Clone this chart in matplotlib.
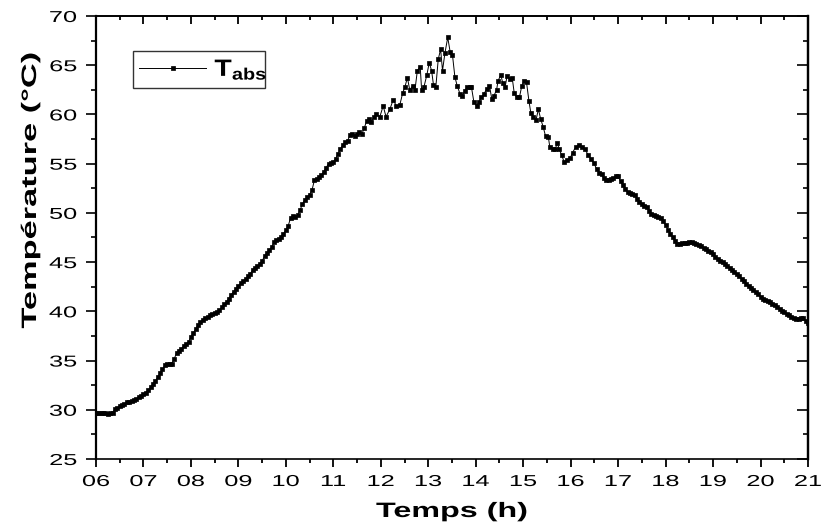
import matplotlib
matplotlib.use("Agg")
import numpy as np
import matplotlib.pyplot as plt
from matplotlib.ticker import MultipleLocator
from matplotlib.patheffects import AbstractPathEffect
from matplotlib.transforms import Affine2D
from matplotlib.path import Path

plt.rcParams['font.family'] = ['Liberation Sans', 'DejaVu Sans']
plt.rcParams['mathtext.fontset'] = 'custom'
plt.rcParams['mathtext.bf'] = 'Liberation Sans:bold'
plt.rcParams['mathtext.rm'] = 'Liberation Sans'

# ---- data (time in hours, absorber temperature in degC) ----
hours_morning = [
    6.00, 6.05, 6.10, 6.15, 6.20, 6.25, 6.30, 6.35, 6.40, 6.45, 6.50, 6.55, 6.60, 6.65, 6.70, 6.75, 6.80, 6.85, 6.90, 6.95,
    7.00, 7.05, 7.10, 7.15, 7.20, 7.25, 7.30, 7.35, 7.40, 7.45, 7.50, 7.55, 7.60, 7.65, 7.70, 7.75, 7.80, 7.85, 7.90, 7.95,
    8.00, 8.05, 8.10, 8.15, 8.20, 8.25, 8.30, 8.35, 8.40, 8.45, 8.50, 8.55, 8.60, 8.65, 8.70, 8.75, 8.80, 8.85, 8.90, 8.95,
    9.00, 9.05, 9.10, 9.15, 9.20, 9.25, 9.30, 9.35, 9.40, 9.45, 9.50, 9.55, 9.60, 9.65, 9.70, 9.75, 9.80, 9.85, 9.90, 9.95,
    10.00, 10.05, 10.10, 10.15, 10.20, 10.25, 10.30, 10.35, 10.40, 10.45, 10.50, 10.55, 10.60, 10.65, 10.70, 10.75, 10.80, 10.85, 10.90, 10.95,
    11.00, 11.05, 11.10, 11.15, 11.20, 11.25, 11.30, 11.35, 11.40, 11.45, 11.50, 11.55, 11.60, 11.65, 11.70, 11.75, 11.80, 11.85, 11.90,
]
temp_morning = [
    29.7, 29.7, 29.65, 29.65, 29.65, 29.6, 29.65, 29.65, 30.1, 30.2, 30.35, 30.5, 30.6, 30.75, 30.8, 30.9, 31.0, 31.1, 31.25, 31.4,
    31.6, 31.75, 32.0, 32.3, 32.6, 32.9, 33.3, 33.7, 34.1, 34.5, 34.6, 34.6, 34.7, 35.2, 35.8, 36.0, 36.2, 36.5, 36.7, 36.9,
    37.4, 37.8, 38.2, 38.6, 38.9, 39.1, 39.3, 39.4, 39.6, 39.7, 39.85, 39.95, 40.1, 40.4, 40.7, 40.95, 41.3, 41.7, 42.0, 42.3,
    42.6, 42.85, 43.1, 43.3, 43.55, 43.8, 44.2, 44.45, 44.6, 44.85, 45.1, 45.6, 45.95, 46.25, 46.5, 47.0, 47.25, 47.35, 47.6, 47.9,
    48.25, 48.7, 49.5, 49.7, 49.55, 49.75, 50.3, 50.9, 51.35, 51.6, 51.85, 52.3, 53.3, 53.4, 53.6, 53.85, 54.2, 54.6, 55.0, 55.1,
    55.2, 55.5, 56.0, 56.5, 56.9, 57.2, 57.3, 57.9, 58.0, 57.8, 58.0, 58.2, 58.0, 58.6, 59.3, 59.5, 59.2, 59.7, 60.0,
]
hours_noon = [
    11.98, 12.05, 12.11, 12.19, 12.26, 12.33, 12.40, 12.46, 12.51, 12.56, 12.61, 12.67, 12.72, 12.77, 12.83, 12.86,
    12.91, 12.97, 13.02, 13.07, 13.11, 13.16, 13.21, 13.26, 13.30, 13.35, 13.41, 13.46, 13.51, 13.56, 13.61, 13.67,
    13.72, 13.77, 13.82, 13.87, 13.91, 13.96, 14.02, 14.07, 14.12, 14.17, 14.23, 14.29, 14.34, 14.38, 14.44, 14.47,
    14.53, 14.57, 14.62, 14.66, 14.72, 14.77, 14.81, 14.86, 14.92, 14.97, 15.02, 15.07, 15.12, 15.16, 15.21, 15.27,
    15.32, 15.37, 15.42, 15.47, 15.53, 15.56, 15.62, 15.67, 15.72, 15.76, 15.81, 15.86, 15.92, 15.99, 16.04, 16.11,
    16.17, 16.23, 16.30, 16.37, 16.43, 16.49, 16.55,
]
temp_noon = [
    59.77, 60.86, 59.77, 60.52, 61.47, 60.86, 60.96, 62.15, 62.82, 63.74, 62.49, 62.89, 62.49, 64.45, 64.86, 62.49,
    62.82, 64.00, 65.26, 64.45, 62.99, 62.82, 65.60, 66.62, 64.45, 66.20, 67.83, 66.38, 66.04, 63.84, 62.89, 62.08,
    61.87, 62.42, 62.76, 62.76, 62.76, 61.30, 60.86, 61.30, 61.74, 62.08, 62.55, 62.89, 61.54, 61.87, 62.49, 63.43,
    64.00, 63.16, 62.82, 63.90, 63.57, 63.67, 62.21, 61.74, 61.74, 62.89, 63.43, 63.26, 61.40, 60.18, 59.77, 59.44,
    60.52, 59.50, 58.76, 57.81, 57.68, 56.73, 56.46, 56.46, 57.07, 56.46, 55.88, 55.20, 55.37, 55.55, 56.12, 56.73,
    56.90, 56.73, 56.46, 55.88, 55.44, 55.04, 54.43,
]
hours_evening = [
    16.60, 16.65, 16.70, 16.75, 16.80, 16.85, 16.90, 16.95, 17.00, 17.05, 17.10, 17.15, 17.20, 17.25, 17.30, 17.35,
    17.40, 17.45, 17.50, 17.55, 17.60, 17.65, 17.70, 17.75, 17.80, 17.85, 17.90, 17.95, 18.00, 18.05, 18.10, 18.15,
    18.20, 18.25, 18.30, 18.35, 18.40, 18.45, 18.50, 18.55, 18.60, 18.65, 18.70, 18.75, 18.80, 18.85, 18.90, 18.95,
    19.00, 19.05, 19.10, 19.15, 19.20, 19.25, 19.30, 19.35, 19.40, 19.45, 19.50, 19.55, 19.60, 19.65, 19.70, 19.75,
    19.80, 19.85, 19.90, 19.95, 20.00, 20.05, 20.10, 20.15, 20.20, 20.25, 20.30, 20.35, 20.40, 20.45, 20.50, 20.55,
    20.60, 20.65, 20.70, 20.75, 20.80, 20.85, 20.90, 20.95, 21.00,
]
temp_evening = [
    54.1, 53.95, 53.5, 53.35, 53.3, 53.4, 53.55, 53.7, 53.75, 53.2, 52.8, 52.45, 52.1, 52.0, 51.95, 51.8,
    51.45, 51.15, 50.9, 50.75, 50.6, 50.2, 49.85, 49.75, 49.65, 49.55, 49.45, 49.15, 48.75, 48.3, 47.9, 47.5,
    47.1, 46.85, 46.85, 46.9, 46.95, 46.95, 47.0, 47.05, 46.95, 46.85, 46.7, 46.6, 46.45, 46.3, 46.15, 46.0,
    45.85, 45.5, 45.3, 45.15, 45.0, 44.85, 44.65, 44.4, 44.15, 44.0, 43.8, 43.55, 43.3, 43.05, 42.8, 42.6,
    42.4, 42.15, 41.95, 41.75, 41.5, 41.3, 41.15, 41.05, 40.9, 40.75, 40.6, 40.45, 40.25, 40.05, 39.9, 39.75,
    39.6, 39.45, 39.35, 39.25, 39.2, 39.35, 39.3, 39.0, 38.8,
]

x_ticks = list(range(6, 22))
x_tick_labels = ["%02d" % h for h in x_ticks]
series_label = r"$\mathbf{T_{abs}}\;\;$"
x_title = "Temps (h)"
y_title = "Température (°C)"

hours = hours_morning + hours_noon + hours_evening
temps = temp_morning + temp_noon + temp_evening


class Stretch(AbstractPathEffect):
    """Draw text glyphs widened along the text direction (text stays a Text artist)."""

    def __init__(self, sx=1.0, anchor='center'):
        super().__init__()
        self.sx = sx
        self.anchor = anchor

    def draw_path(self, renderer, gc, tpath, affine, rgbFace=None):
        v = tpath.vertices
        if tpath.codes is not None:
            v = v[tpath.codes != Path.CLOSEPOLY]
        if len(v):
            xmin, xmax = float(v[:, 0].min()), float(v[:, 0].max())
        else:
            xmin = xmax = 0.0
        if self.anchor == 'center':
            a = 0.5 * (xmin + xmax)
        elif self.anchor == 'right':
            a = xmax
        else:
            a = xmin
        t = Affine2D().translate(-a, 0).scale(self.sx, 1.0).translate(a, 0)
        renderer.draw_path(gc, tpath, t + affine, rgbFace)


fig = plt.figure(figsize=(8.21, 5.29), dpi=100)
ax = fig.add_axes([96/821, 1 - 459/529, (808 - 96)/821, (459 - 16)/529])

rect_marker = [(-1.35, -1), (1.35, -1), (1.35, 1), (-1.35, 1), (-1.35, -1)]
ax.plot(hours, temps, color='black', lw=0.7, marker=rect_marker, ms=3.0,
        mfc='black', mec='black', mew=0.5, label=series_label)

ax.set_xlim(6, 21)
ax.set_ylim(25, 70)
ax.set_xticks(x_ticks)
ax.set_xticklabels(x_tick_labels)
ax.xaxis.set_minor_locator(MultipleLocator(0.5))
ax.yaxis.set_major_locator(MultipleLocator(5))
ax.yaxis.set_minor_locator(MultipleLocator(2.5))

ax.spines['top'].set_linewidth(1.2)
ax.spines['bottom'].set_linewidth(1.2)
ax.spines['left'].set_linewidth(1.6)
ax.spines['right'].set_linewidth(1.6)

ax.tick_params(axis='x', which='major', direction='out', length=5.4, width=1.3,
               labelsize=11.4, pad=5.4)
ax.tick_params(axis='x', which='minor', direction='out', length=2.9, width=1.3)
ax.tick_params(axis='y', which='major', direction='out', length=7.5, width=1.2,
               labelsize=11.4, pad=6.3)
ax.tick_params(axis='y', which='minor', direction='out', length=3.6, width=1.2)

secx = ax.secondary_xaxis('top')
secx.set_xticks(x_ticks)
secx.xaxis.set_minor_locator(MultipleLocator(0.5))
secx.tick_params(axis='x', which='major', direction='in', length=5.7, width=1.3, labeltop=False)
secx.tick_params(axis='x', which='minor', direction='in', length=2.9, width=1.3)
secx.spines['top'].set_linewidth(1.2)

secy = ax.secondary_yaxis('right')
secy.yaxis.set_major_locator(MultipleLocator(5))
secy.yaxis.set_minor_locator(MultipleLocator(2.5))
secy.tick_params(axis='y', which='major', direction='in', length=7.8, width=1.2, labelright=False)
secy.tick_params(axis='y', which='minor', direction='in', length=3.6, width=1.2)
secy.spines['right'].set_linewidth(1.6)

xl = ax.set_xlabel(x_title, fontsize=15, fontweight='bold')
yl = ax.set_ylabel(y_title, fontsize=15, fontweight='bold')
ax.xaxis.set_label_coords(0.5, (459 - 502) / 443)
ax.yaxis.set_label_coords((40 - 96) / 712, (459 - 190) / 443)
xl.set_path_effects([Stretch(1.55, 'center')])
yl.set_path_effects([Stretch(1.65, 'center')])

leg = ax.legend(loc='upper left', fontsize=17,
                frameon=True, fancybox=False, edgecolor='black', handlelength=2.85,
                borderpad=0.25, handletextpad=0.35, borderaxespad=0)
leg.set_bbox_to_anchor(((133 - 96) / 712, 1 - (51 - 16) / 443), transform=ax.transAxes)
leg.get_frame().set_linewidth(1.0)
for t in leg.get_texts():
    t.set_path_effects([Stretch(1.2, 'left')])

fig.canvas.draw()
for lbl in ax.xaxis.get_ticklabels():
    lbl.set_path_effects([Stretch(1.6, 'center')])
for lbl in ax.yaxis.get_ticklabels():
    lbl.set_path_effects([Stretch(1.6, 'right')])

fig.savefig("out.png", dpi=100)
